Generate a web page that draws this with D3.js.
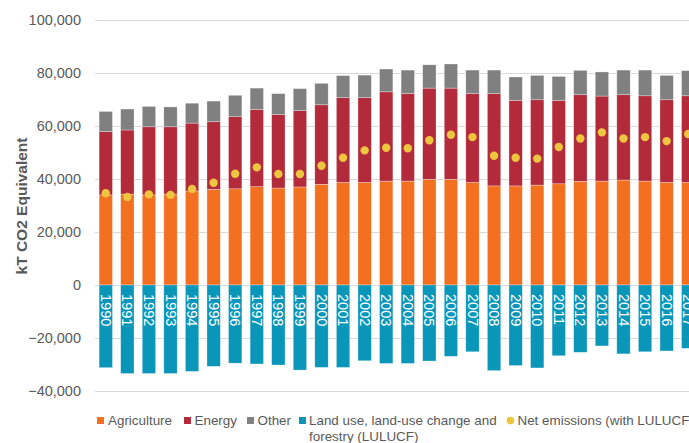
<!DOCTYPE html>
<html>
<head>
<meta charset="utf-8">
<script src="https://cdn.jsdelivr.net/npm/d3@7"></script>
<style>
  html, body { margin: 0; padding: 0; background: #fff; overflow: hidden; }
  svg { display: block; font-family: "Liberation Sans", Arial, sans-serif; }
</style>
</head>
<body>
<script>
// emissions by sector, kt CO2 equivalent
const years = [1990, 1991, 1992, 1993, 1994, 1995, 1996, 1997, 1998, 1999,
               2000, 2001, 2002, 2003, 2004, 2005, 2006, 2007, 2008, 2009,
               2010, 2011, 2012, 2013, 2014, 2015, 2016, 2017];
const agriculture = [34000, 34300, 34000, 34300, 35500, 36100, 36300, 37100, 36600, 37000,
                     38000, 38700, 38700, 39200, 39200, 39900, 39900, 38700, 37400, 37400,
                     37700, 38200, 39100, 39200, 39600, 39200, 38700, 38700];
const energy = [23900, 24200, 25700, 25400, 25600, 25500, 27200, 29200, 27700, 28800,
                30000, 32000, 32000, 33700, 33100, 34400, 34400, 33500, 34800, 32300,
                32200, 31500, 32700, 32100, 32200, 32200, 31200, 32700];
const other = [7600, 7900, 7700, 7500, 7500, 7800, 8100, 8000, 7900, 8300,
               8100, 8300, 8500, 8600, 8800, 8800, 9100, 8900, 8900, 8800,
               9200, 9000, 9200, 9100, 9300, 9700, 9200, 9500];
const lulucf = [-31200, -33400, -33400, -33400, -32600, -30700, -29500, -29800, -30200, -32100,
                -31100, -31100, -28600, -29600, -29600, -28700, -26900, -25200, -32300, -30400,
                -31300, -26700, -25400, -23000, -26000, -25200, -24900, -23900];
const netEmissions = [34600, 33200, 34200, 34000, 36200, 38600, 42000, 44400, 41900, 41900,
                      45000, 48000, 50800, 51800, 51600, 54600, 56700, 55800, 48800, 48000,
                      47700, 52100, 55300, 57600, 55300, 55800, 54300, 57000];
const yTicks = [-40000, -20000, 0, 20000, 40000, 60000, 80000, 100000];

const keys = ["agriculture", "energy", "other", "lulucf"];
const names = {
  agriculture: "Agriculture",
  energy: "Energy",
  other: "Other",
  lulucf: "Land use, land-use change and forestry (LULUCF)"
};
const colors = {
  agriculture: "#F37021",
  energy: "#B32A3B",
  other: "#808080",
  lulucf: "#0A96B8"
};
const dotColor = "#EEC53F";

const rows = years.map((y, i) => ({
  year: y,
  agriculture: agriculture[i],
  energy: energy[i],
  other: other[i],
  lulucf: lulucf[i],
  net: netEmissions[i]
}));

const width = 689, height = 443;
const svg = d3.select("body").append("svg")
  .attr("width", width)
  .attr("height", height);

const x = d3.scaleBand()
  .domain(years)
  .range([95, 699])
  .paddingInner(0.38)
  .paddingOuter(0.19);

const y = d3.scaleLinear()
  .domain([-40000, 100000])
  .range([391, 20]);

// gridlines
svg.append("g")
  .selectAll("line")
  .data(yTicks)
  .enter().append("line")
  .attr("x1", 95)
  .attr("x2", width)
  .attr("y1", d => Math.round(y(d)) + 0.5)
  .attr("y2", d => Math.round(y(d)) + 0.5)
  .attr("stroke", "#D9D9D9")
  .attr("stroke-width", 1.2);

// y axis labels
const yAxis = d3.axisLeft(y).tickValues(yTicks).tickFormat(d3.format(",")).tickSize(0).tickPadding(0);
svg.append("g")
  .attr("transform", "translate(81,0)")
  .call(yAxis)
  .call(g => g.select(".domain").remove())
  .call(g => g.selectAll("text")
    .attr("fill", "#595959")
    .attr("font-size", "14.5px")
    .attr("font-family", "Liberation Sans, Arial, sans-serif"));

svg.append("text")
  .attr("transform", "translate(21,206) rotate(-90)")
  .attr("text-anchor", "middle")
  .attr("dominant-baseline", "central")
  .attr("font-size", "15.5px")
  .attr("font-weight", "bold")
  .attr("fill", "#595959")
  .text("kT CO2 Equivalent");

// stacked bars
const series = d3.stack().keys(keys).offset(d3.stackOffsetDiverging)(rows);

svg.append("g")
  .selectAll("g")
  .data(series)
  .enter().append("g")
  .attr("fill", d => colors[d.key])
  .selectAll("rect")
  .data(d => d)
  .enter().append("rect")
  .attr("x", d => x(d.data.year))
  .attr("width", x.bandwidth())
  .attr("y", d => y(Math.max(d[0], d[1])))
  .attr("height", d => Math.abs(y(d[0]) - y(d[1])))
  .attr("stroke", "#ffffff")
  .attr("stroke-opacity", 0.5)
  .attr("stroke-width", 0.6);

// year labels inside the negative bars
svg.append("g")
  .selectAll("text")
  .data(years)
  .enter().append("text")
  .attr("transform", d => `translate(${x(d) + x.bandwidth() / 2},${y(0) + 9}) rotate(90)`)
  .attr("dominant-baseline", "central")
  .attr("font-size", "14.5px")
  .attr("fill", "#ffffff")
  .text(d => d);

// net emissions dots
svg.append("g")
  .selectAll("circle")
  .data(rows)
  .enter().append("circle")
  .attr("cx", d => x(d.year) + x.bandwidth() / 2)
  .attr("cy", d => y(d.net))
  .attr("r", 4.2)
  .attr("fill", dotColor);

// legend
const legend = svg.append("g")
  .attr("font-size", "13.4px")
  .attr("fill", "#595959");

const legendItems = [
  { key: "agriculture", x: 97 },
  { key: "energy", x: 184 },
  { key: "other", x: 247 },
  { key: "lulucf", x: 299 }
];
legendItems.forEach(it => {
  legend.append("rect")
    .attr("x", it.x)
    .attr("y", 417)
    .attr("width", 7)
    .attr("height", 7)
    .attr("fill", colors[it.key]);
});
legend.append("text").attr("x", 108).attr("y", 425).text(names.agriculture);
legend.append("text").attr("x", 194.5).attr("y", 425).text(names.energy);
legend.append("text").attr("x", 257.5).attr("y", 425).text(names.other);
legend.append("text").attr("x", 309).attr("y", 425).text("Land use, land-use change and");
legend.append("text").attr("x", 309).attr("y", 441).text("forestry (LULUCF)");
legend.append("circle")
  .attr("cx", 510.5)
  .attr("cy", 420.5)
  .attr("r", 3.8)
  .attr("fill", dotColor);
legend.append("text").attr("x", 517.5).attr("y", 425).text("Net emissions (with LULUCF)");
</script>
</body>
</html>
